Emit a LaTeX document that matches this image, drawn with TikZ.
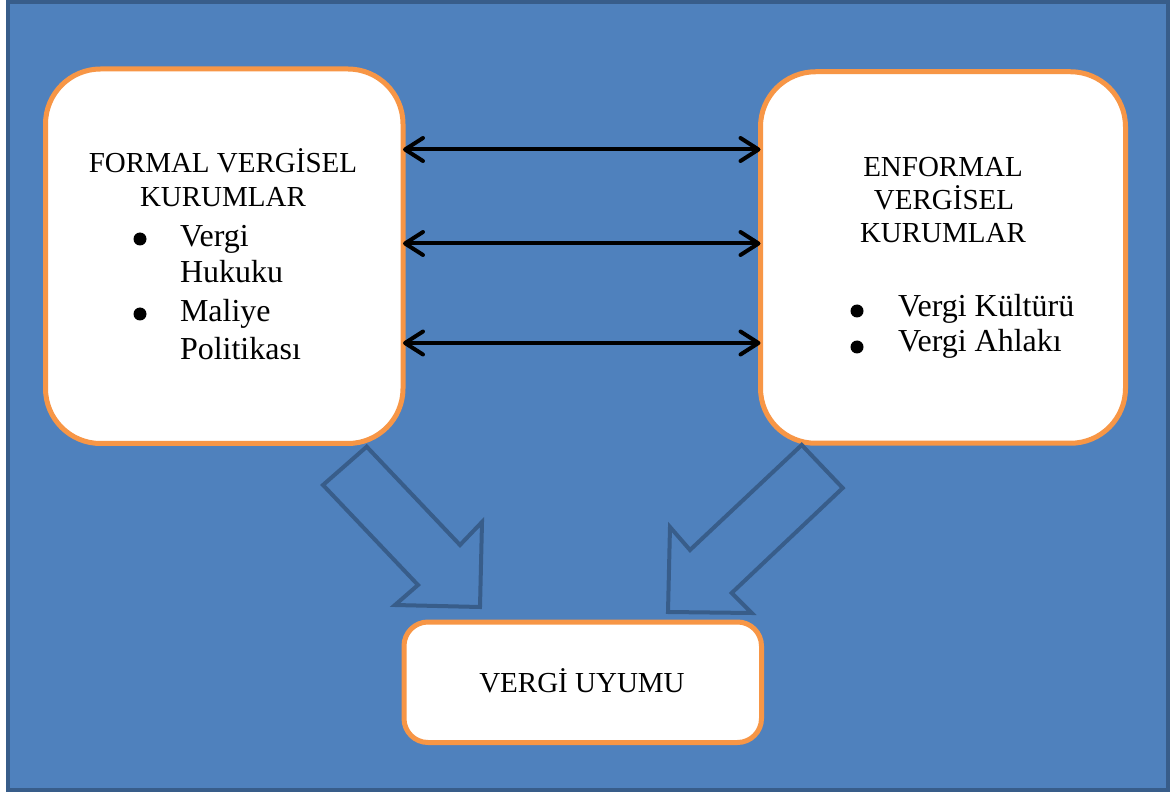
\documentclass[tikz,border=0pt]{standalone}
\usepackage{fontspec}
\setmainfont{Liberation Serif}
\usetikzlibrary{arrows.meta}
\definecolor{panelfill}{HTML}{4F81BD}
\definecolor{paneledge}{HTML}{385D8A}
\definecolor{boxedge}{HTML}{F79646}
\begin{document}
\begin{tikzpicture}[x=1pt,y=-1pt,
  card/.style={draw=boxedge, line width=5pt, fill=white, rounded corners=55pt,
    outer sep=0pt, inner sep=0pt},
  label/.style={font=\fontsize{29}{34}\selectfont, inner sep=0pt, outer sep=0pt},
  item/.style={font=\fontsize{32}{36}\selectfont, inner sep=0pt, outer sep=0pt},
  dot/.style={circle, fill=black, minimum size=13pt, inner sep=0pt},
  link/.style={line width=4pt,
    {Straight Barb[length=18pt,width=23pt,round]}-{Straight Barb[length=18pt,width=23pt,round]}},
  bigarrow/.style={draw=paneledge, line width=4pt, line join=miter}
]
\useasboundingbox (0,0) rectangle (1171,794);
\fill[white] (0,0) rectangle (1171,794);
% panel
\draw[draw=paneledge, fill=panelfill, line width=4pt] (7.5,2) rectangle (1168,789.5);

% three boxes
\node[card, minimum width=357.5pt, minimum height=374.5pt] (L) at (224.25,256.25) {};
\node[card, minimum width=365pt, minimum height=371.5pt] (R) at (943,257.5) {};
\node[card, rounded corners=24pt, minimum width=357.5pt, minimum height=120.5pt] (B) at (582.75,682.25) {};

% formal institutions
\node[label, anchor=base] (l1) at (223,173) {FORMAL VERGİSEL};
\node[label, anchor=base] (l2) at (223,207) {KURUMLAR};
\node[dot] (ld1) at (140,239) {};
\node[item, anchor=base west] (l3) at (180,247) {Vergi};
\node[item, anchor=base west] (l4) at (180,283) {Hukuku};
\node[dot] (ld2) at (140,314) {};
\node[item, anchor=base west] (l5) at (180,322) {Maliye};
\node[item, anchor=base west] (l6) at (180,360) {Politikası};

% informal institutions
\node[label, anchor=base] (r1) at (943,177) {ENFORMAL};
\node[label, anchor=base] (r2) at (944,210) {VERGİSEL};
\node[label, anchor=base] (r3) at (943,243) {KURUMLAR};
\node[dot] (rd1) at (857,311) {};
\node[item, anchor=base west] (r4) at (898,317) {Vergi Kültürü};
\node[dot] (rd2) at (857,347) {};
\node[item, anchor=base west] (r5) at (898,352) {Vergi Ahlakı};

% outcome
\node[label, anchor=base] (b1) at (582,692) {VERGİ UYUMU};

% mutual links between the two institution boxes
\draw[link] (L.east |- 0,149.5) -- (R.west |- 0,149.5);
\draw[link] (L.east |- 0,243.5) -- (R.west |- 0,243.5);
\draw[link] (L.east |- 0,343) -- (R.west |- 0,343);

% block arrows towards tax compliance
\draw[bigarrow] (366.7,446.7) -- (323,485) -- (418,585) -- (395,605)
  -- (480,607) -- (482,522) -- (460,545) -- cycle;
\draw[bigarrow] (801.7,445) -- (842.7,488) -- (731.7,593) -- (751.7,613)
  -- (668,612) -- (670,527) -- (690,550) -- cycle;
\end{tikzpicture}
\end{document}
